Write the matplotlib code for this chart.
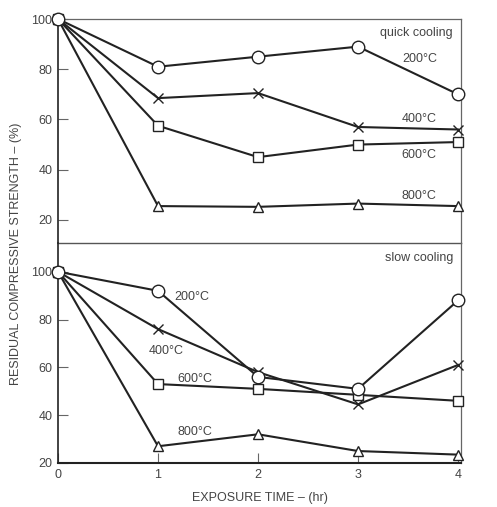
import matplotlib.pyplot as plt

plt.rcParams['font.family'] = ['Liberation Sans', 'DejaVu Sans']

hours = [0, 1, 2, 3, 4]
temps = ['200°C', '400°C', '600°C', '800°C']
markers = ['o', 'x', 's', '^']
marker_sizes = [9, 7, 6.5, 7.5]

# quick cooling (top panel)
quick = {
    '200°C': [100, 81, 85, 89, 70],
    '400°C': [100, 68.5, 70.5, 57, 56],
    '600°C': [100, 57.5, 45, 50, 51],
    '800°C': [100, 25.5, 25.2, 26.5, 25.5],
}
# slow cooling (bottom panel)
slow = {
    '200°C': [100, 92, 56, 51, 88],
    '400°C': [100, 76, 58, 44.5, 61],
    '600°C': [100, 53, 51, 48.5, 46],
    '800°C': [100, 27, 32, 25, 23.5],
}

quick_label_pos = {'200°C': (3.62, 84), '400°C': (3.61, 60), '600°C': (3.61, 46), '800°C': (3.61, 29.5)}
slow_label_pos = {'200°C': (1.34, 89.5), '400°C': (1.08, 67), '600°C': (1.37, 55), '800°C': (1.37, 33)}

txt = '#444444'
spine_c = '#666666'

fig = plt.figure(figsize=(4.97, 5.07), dpi=100)
ax_top = fig.add_axes([0.1167, 0.5207, 0.811, 0.4418])
ax_bot = fig.add_axes([0.1167, 0.0868, 0.811, 0.4339])
ax_bot.patch.set_visible(False)


def draw(ax, data, label_pos, title, title_y, ylim):
    for i, (t, m, ms) in enumerate(zip(temps, markers, marker_sizes)):
        ax.plot(hours, data[t], color='#222222', lw=1.5, marker=m, ms=ms,
                mfc='white', mec='#222222', mew=1.0, clip_on=False, zorder=6 - i)
        x, y = label_pos[t]
        ax.text(x, y, t, ha='center', va='center', fontsize=9, color=txt)
    ax.text(3.95, title_y, title, ha='right', va='center', fontsize=9, color=txt)
    ax.set_xlim(0, 4.03)
    ax.set_ylim(*ylim)
    ax.set_yticks([20, 40, 60, 80, 100])
    ax.tick_params(axis='both', direction='in', length=7, width=0.8,
                   color=spine_c, labelcolor=txt, labelsize=9, pad=4)
    for s in ax.spines.values():
        s.set_color(spine_c)
        s.set_linewidth(0.9)
    ax.spines['left'].set_color('#222222')
    ax.spines['left'].set_linewidth(1.2)


draw(ax_top, quick, quick_label_pos, 'quick cooling', 94.4, (10.8, 100))
ax_top.set_xticks([])
ax_top.spines['bottom'].set_color('#555555')
ax_top.spines['bottom'].set_linewidth(1.0)

draw(ax_bot, slow, slow_label_pos, 'slow cooling', 105.6, (20, 112))
ax_bot.spines['top'].set_visible(False)
ax_bot.spines['bottom'].set_color('#222222')
ax_bot.spines['bottom'].set_linewidth(1.5)
ax_bot.set_xticks(hours)
ax_bot.set_xlabel('EXPOSURE TIME – (hr)', fontsize=9, color=txt, labelpad=8)

fig.text(0.032, 0.5, 'RESIDUAL COMPRESSIVE STRENGTH – (%)', rotation=90,
         ha='center', va='center', fontsize=9, color=txt)

fig.savefig('out.png', dpi=100)
